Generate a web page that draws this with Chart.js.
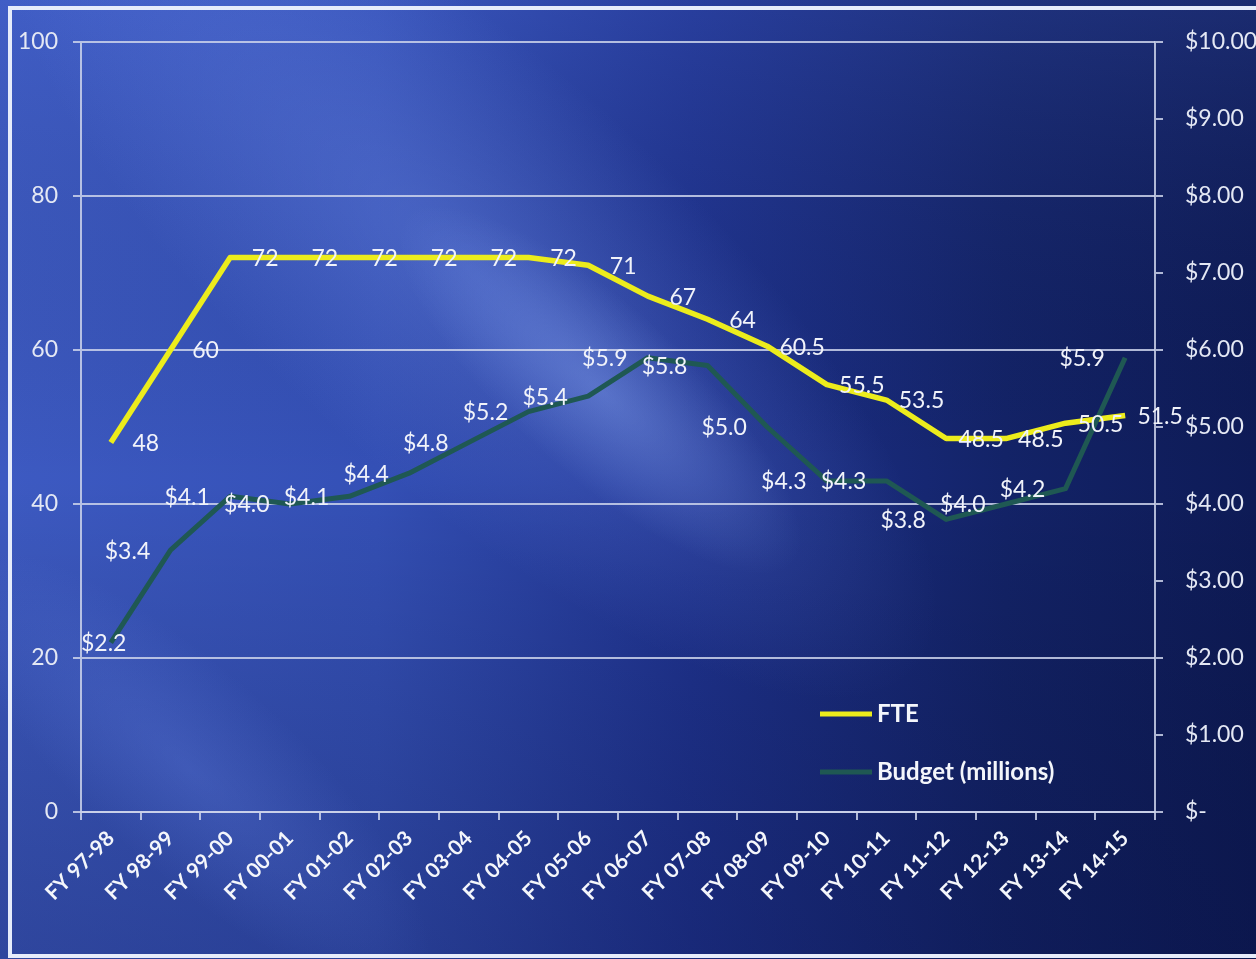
<!DOCTYPE html>
<html>
<head>
<meta charset="utf-8">
<title>FTE and Budget</title>
<script src="https://cdn.jsdelivr.net/npm/chart.js@4.4.1/dist/chart.umd.min.js"></script>
<style>
    html, body { margin: 0; padding: 0; background: #0e1b58; }
    #wrap { position: relative; width: 1256px; height: 959px; overflow: hidden; }
    #bg, #chart { position: absolute; left: 0; top: 0; }
    #frame {
        position: absolute; left: 8px; top: 6px; width: 1270px; height: 952px;
        border: 4px solid #e6ecfb; box-sizing: border-box;
    }
</style>
</head>
<body>
<div id="wrap">
    <canvas id="bg" width="1256" height="959"></canvas>
    <div id="frame"></div>
    <canvas id="chart" width="1256" height="959"></canvas>
</div>
<script>
const categories = [
    'FY 97-98', 'FY 98-99', 'FY 99-00', 'FY 00-01', 'FY 01-02', 'FY 02-03',
    'FY 03-04', 'FY 04-05', 'FY 05-06', 'FY 06-07', 'FY 07-08', 'FY 08-09',
    'FY 09-10', 'FY 10-11', 'FY 11-12', 'FY 12-13', 'FY 13-14', 'FY 14-15'
];
const fteValues = [48, 60, 72, 72, 72, 72, 72, 72, 71, 67, 64, 60.5, 55.5, 53.5, 48.5, 48.5, 50.5, 51.5];
const budgetValues = [2.2, 3.4, 4.1, 4.0, 4.1, 4.4, 4.8, 5.2, 5.4, 5.9, 5.8, 5.0, 4.3, 4.3, 3.8, 4.0, 4.2, 5.9];
const fteTicks = [0, 20, 40, 60, 80, 100];
const budgetTicks = [0, 1, 2, 3, 4, 5, 6, 7, 8, 9, 10];

const FONT = 'Lato';
const GRID = 'rgba(205, 212, 235, 0.85)';

// slide backdrop: blue gradient with soft diagonal light rays
function streak(g, cx, cy, len, wid, color, clear) {
    g.save();
    g.translate(cx, cy);
    g.rotate(Math.PI / 4.3);
    g.scale(len / wid, 1);
    const rg = g.createRadialGradient(0, 0, 0, 0, 0, wid / 2);
    rg.addColorStop(0, color);
    rg.addColorStop(1, clear);
    g.fillStyle = rg;
    g.beginPath();
    g.arc(0, 0, wid / 2, 0, Math.PI * 2);
    g.fill();
    g.restore();
}

function paintBackdrop() {
    const c = document.getElementById('bg');
    const g = c.getContext('2d');
    const w = c.width, h = c.height;

    const lg = g.createLinearGradient(0, 0, w, 0);
    lg.addColorStop(0, '#3d5ac2');
    lg.addColorStop(0.3, '#3450b6');
    lg.addColorStop(0.55, '#1f3390');
    lg.addColorStop(0.8, '#132368');
    lg.addColorStop(1, '#0e1b57');
    g.fillStyle = lg;
    g.fillRect(0, 0, w, h);

    const vg = g.createLinearGradient(0, 0, 0, h);
    vg.addColorStop(0, 'rgba(80, 110, 215, 0.2)');
    vg.addColorStop(0.5, 'rgba(0, 0, 0, 0)');
    vg.addColorStop(1, 'rgba(5, 10, 50, 0.25)');
    g.fillStyle = vg;
    g.fillRect(0, 0, w, h);

    streak(g, 470, 270, 1200, 420, 'rgba(120, 150, 245, 0.35)', 'rgba(120, 150, 245, 0)');
    streak(g, 600, 390, 520, 170, 'rgba(150, 180, 255, 0.35)', 'rgba(150, 180, 255, 0)');
    streak(g, 190, 770, 620, 200, 'rgba(110, 140, 240, 0.25)', 'rgba(110, 140, 240, 0)');
}

// numbers next to each point: FTE to the right, budget to the left
const valueLabels = {
    id: 'valueLabels',
    afterDatasetsDraw(chart) {
        const ctx = chart.ctx;
        const area = chart.chartArea;
        ctx.save();
        ctx.font = '23px ' + FONT;
        ctx.fillStyle = '#f1f3fa';
        ctx.textBaseline = 'middle';
        ctx.textAlign = 'center';
        chart.data.datasets.forEach((ds, i) => {
            const meta = chart.getDatasetMeta(i);
            const isBudget = ds.yAxisID === 'y1';
            meta.data.forEach((pt, j) => {
                const v = ds.data[j];
                const text = isBudget ? '$' + v.toFixed(1) : String(v);
                const tw = ctx.measureText(text).width;
                let x = isBudget ? pt.x - 43 : pt.x + 35;
                if (x - tw / 2 < area.left) x = area.left + tw / 2;
                ctx.fillText(text, x, pt.y + 1);
            });
        });
        ctx.restore();
    }
};

// legend sitting inside the plot, lower right
const innerLegend = {
    id: 'innerLegend',
    afterDraw(chart) {
        const ctx = chart.ctx;
        const area = chart.chartArea;
        const x0 = area.right - 335;
        const y0 = area.bottom - 98;
        ctx.save();
        ctx.font = 'bold 24px ' + FONT;
        ctx.textBaseline = 'middle';
        ctx.textAlign = 'left';
        chart.data.datasets.forEach((ds, i) => {
            const y = y0 + i * 58;
            ctx.strokeStyle = ds.borderColor;
            ctx.lineWidth = 5;
            ctx.beginPath();
            ctx.moveTo(x0, y);
            ctx.lineTo(x0 + 52, y);
            ctx.stroke();
            ctx.fillStyle = '#f4f6fb';
            ctx.fillText(ds.label, x0 + 57, y);
        });
        ctx.restore();
    }
};

document.addEventListener('DOMContentLoaded', function() {
    paintBackdrop();

    const ctx = document.getElementById('chart').getContext('2d');
    new Chart(ctx, {
        type: 'line',
        data: {
            labels: categories,
            datasets: [{
                label: 'FTE',
                data: fteValues,
                yAxisID: 'y',
                borderColor: '#ecec1c',
                borderWidth: 5.5,
                pointRadius: 0,
                tension: 0,
                borderJoinStyle: 'round',
                order: 1,
                fill: false
            }, {
                label: 'Budget (millions)',
                data: budgetValues,
                yAxisID: 'y1',
                borderColor: '#1f5853',
                borderWidth: 5,
                pointRadius: 0,
                tension: 0,
                borderJoinStyle: 'round',
                order: 0,
                fill: false
            }]
        },
        options: {
            responsive: false,
            animation: false,
            layout: { padding: { top: 42, left: 0, right: 0, bottom: 0 } },
            plugins: {
                legend: { display: false },
                tooltip: { enabled: false }
            },
            scales: {
                x: {
                    offset: true,
                    afterFit: (scale) => { scale.height = 147; },
                    grid: {
                        offset: true,
                        drawOnChartArea: false,
                        color: GRID,
                        lineWidth: 2,
                        tickLength: 8
                    },
                    border: { display: true, color: GRID, width: 2 },
                    ticks: {
                        color: '#f4f6fb',
                        font: { family: FONT, size: 21, weight: 'bold' },
                        minRotation: 45,
                        maxRotation: 45,
                        padding: 6,
                        autoSkip: false
                    }
                },
                y: {
                    position: 'left',
                    min: fteTicks[0],
                    max: fteTicks[fteTicks.length - 1],
                    afterFit: (scale) => { scale.width = 81; },
                    afterBuildTicks: (scale) => { scale.ticks = fteTicks.map(v => ({ value: v })); },
                    grid: { color: GRID, lineWidth: 2, tickLength: 8 },
                    border: { display: true, color: GRID, width: 2 },
                    ticks: {
                        color: '#e4e8f4',
                        font: { family: FONT, size: 23 },
                        padding: 15
                    }
                },
                y1: {
                    position: 'right',
                    min: budgetTicks[0],
                    max: budgetTicks[budgetTicks.length - 1],
                    afterFit: (scale) => { scale.width = 101; },
                    afterBuildTicks: (scale) => { scale.ticks = budgetTicks.map(v => ({ value: v })); },
                    grid: { drawOnChartArea: false, color: GRID, lineWidth: 2, tickLength: 8 },
                    border: { display: true, color: GRID, width: 2 },
                    ticks: {
                        color: '#e4e8f4',
                        font: { family: FONT, size: 23 },
                        padding: 22,
                        callback: (v) => v === 0 ? '$-' : '$' + Number(v).toFixed(2)
                    }
                }
            }
        },
        plugins: [valueLabels, innerLegend]
    });
});
</script>
</body>
</html>
